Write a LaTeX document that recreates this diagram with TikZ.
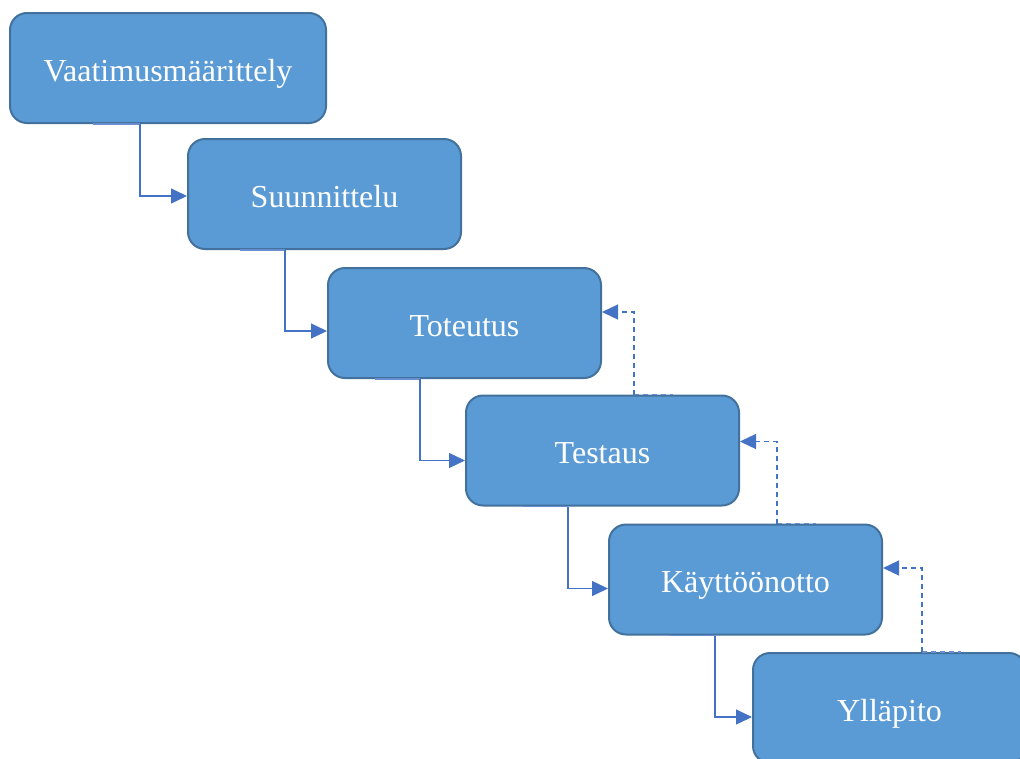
\documentclass[tikz,border=0pt]{standalone}
\usepackage{fontspec}
\setmainfont{Liberation Serif}
\usetikzlibrary{arrows.meta,calc}
\definecolor{boxfill}{HTML}{5B9BD5}
\definecolor{boxline}{HTML}{41719C}
\definecolor{linkcol}{HTML}{4472C4}
\tikzset{
  phase/.style={draw=boxline, line width=2pt, fill=boxfill, rounded corners=17pt,
    minimum height=110pt, minimum width=273pt, inner sep=0pt,
    text height=26pt, text depth=0pt,
    text=white, font=\fontsize{32}{38}\selectfont},
  flow/.style={draw=linkcol, line width=1.3pt, -{Triangle[length=16pt,width=15pt]}},
  back/.style={flow, dash pattern=on 5pt off 4pt},
  seam/.style={draw=linkcol!80!white, line width=1.2pt},
  seamdash/.style={seam, dash pattern=on 5pt off 4pt}
}
\begin{document}
\begin{tikzpicture}[x=1pt,y=-1pt]
\useasboundingbox (0,0) rectangle (1020,758);
\begin{scope}
\clip (0,0) rectangle (1020,758);
\node[phase, minimum width=316pt] (v) at (168,68) {Vaatimusmäärittely};
\node[phase] (s) at (324.5,194) {Suunnittelu};
\node[phase] (t) at (464.5,323) {Toteutus};
\node[phase] (te) at (602.5,450.5) {Testaus};
\node[phase] (k) at (745.5,579.5) {Käyttöönotto};
\node[phase] (y) at (889.5,708) {Ylläpito};

% forward flow between consecutive phases
\draw[seam] ($(v.south)+(-75,0)$) -- ($(v.south)+(-28,0)$);
\draw[flow] ($(v.south)+(-28,0)$) |- ([yshift=-2pt]s.west);
\draw[seam] ($(s.south)+(-85,0)$) -- ($(s.south)+(-39.5,0)$);
\draw[flow] ($(s.south)+(-39.5,0)$) |- ([yshift=-8pt]t.west);
\draw[seam] ($(t.south)+(-90,0)$) -- ($(t.south)+(-44.5,0)$);
\draw[flow] ($(t.south)+(-44.5,0)$) |- ([yshift=-10pt]te.west);
\draw[seam] ($(te.south)+(-80,0)$) -- ($(te.south)+(-34.5,0)$);
\draw[flow] ($(te.south)+(-34.5,0)$) |- ([yshift=-9pt]k.west);
\draw[seam] ($(k.south)+(-76,0)$) -- ($(k.south)+(-30.5,0)$);
\draw[flow] ($(k.south)+(-30.5,0)$) |- ([yshift=-9pt]y.west);

% feedback to the previous phase
\draw[seamdash] ($(te.north)+(31.5,0)$) -- ($(te.north)+(70,0)$);
\draw[back] ($(te.north)+(31.5,0)$) |- ([yshift=11pt]t.east);
\draw[seamdash] ($(k.north)+(31.5,0)$) -- ($(k.north)+(70,0)$);
\draw[back] ($(k.north)+(31.5,0)$) |- ([yshift=9pt]te.east);
\draw[seamdash] ($(y.north)+(32.5,0)$) -- ($(y.north)+(71,0)$);
\draw[back] ($(y.north)+(32.5,0)$) |- ([yshift=11.5pt]k.east);
\end{scope}
\end{tikzpicture}
\end{document}
